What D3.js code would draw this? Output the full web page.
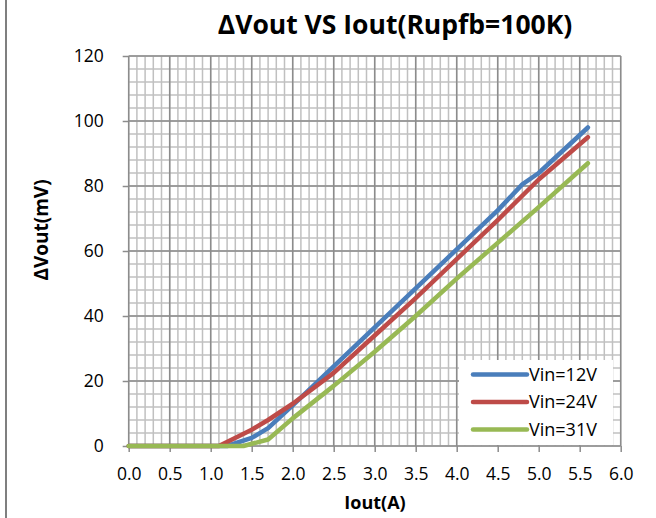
<!DOCTYPE html>
<html>
<head>
<meta charset="utf-8">
<script src="https://cdn.jsdelivr.net/npm/d3@7.9.0/dist/d3.min.js"></script>
<style>
  body { margin: 0; background: #fff; }
  svg { display: block; font-family: 'Open Sans', sans-serif; }
</style>
</head>
<body>
<svg id="chart" width="656" height="518"></svg>
<script>
// data
const seriesNames = ['Vin=12V', 'Vin=24V', 'Vin=31V'];
const seriesColors = ['#4a7ebb', '#be4b48', '#98b954'];

const iout12 = [0, 0.5, 1.0, 1.2, 1.5, 1.7, 2.0, 2.5, 3.0, 3.5, 4.0, 4.5, 4.8, 5.0, 5.6];
const dv12 = [0, 0, 0, 0, 2.5, 5.5, 12.5, 24.5, 36.5, 48.5, 60.5, 72.5, 80.5, 84, 98];

const iout24 = [0, 0.5, 1.0, 1.1, 1.5, 1.7, 2.0, 2.5, 3.0, 3.5, 4.0, 4.5, 5.0, 5.6];
const dv24 = [0, 0, 0, 0, 5, 8, 13, 22.5, 34, 45.5, 57.5, 69.5, 82, 95];

const iout31 = [0, 0.5, 1.0, 1.4, 1.7, 2.0, 2.5, 3.0, 3.5, 4.0, 4.5, 5.0, 5.6];
const dv31 = [0, 0, 0, 0, 2, 8.5, 18.5, 29, 40, 51.5, 62.5, 73.5, 87];

const xTicks = [0, 0.5, 1.0, 1.5, 2.0, 2.5, 3.0, 3.5, 4.0, 4.5, 5.0, 5.5, 6.0];
const yTicks = [0, 20, 40, 60, 80, 100, 120];

const series = [
  { name: seriesNames[0], color: seriesColors[0], pts: iout12.map((v, i) => [v, dv12[i]]) },
  { name: seriesNames[1], color: seriesColors[1], pts: iout24.map((v, i) => [v, dv24[i]]) },
  { name: seriesNames[2], color: seriesColors[2], pts: iout31.map((v, i) => [v, dv31[i]]) },
];

const svg = d3.select('#chart');
const x = d3.scaleLinear().domain([0, 6]).range([128.7, 620.7]);
const y = d3.scaleLinear().domain([0, 120]).range([446, 56]);

// outer frame edge on the left
svg.append('line')
  .attr('x1', 6).attr('x2', 6).attr('y1', 0).attr('y2', 518)
  .attr('stroke', '#7f7f7f').attr('stroke-width', 2);

// minor grid
const g = svg.append('g');
d3.range(0, 6.0001, 0.1).forEach(v => {
  g.append('line')
    .attr('x1', x(v)).attr('x2', x(v)).attr('y1', y(0)).attr('y2', y(120))
    .attr('stroke', '#c0c0c0').attr('stroke-width', 1.5);
});
d3.range(0, 120.001, 4).forEach(v => {
  g.append('line')
    .attr('x1', x(0)).attr('x2', x(6)).attr('y1', y(v)).attr('y2', y(v))
    .attr('stroke', '#c0c0c0').attr('stroke-width', 1.5);
});

// major grid
xTicks.forEach(v => {
  g.append('line')
    .attr('x1', x(v)).attr('x2', x(v)).attr('y1', y(0)).attr('y2', y(120))
    .attr('stroke', '#8c8c8c').attr('stroke-width', 1.5);
});
yTicks.forEach(v => {
  g.append('line')
    .attr('x1', x(0)).attr('x2', x(6)).attr('y1', y(v)).attr('y2', y(v))
    .attr('stroke', '#8c8c8c').attr('stroke-width', 1.5);
});

// axes
const xAxis = d3.axisBottom(x).tickValues(xTicks).tickSize(6).tickPadding(16)
  .tickFormat(d3.format('.1f'));
const yAxis = d3.axisLeft(y).tickValues(yTicks).tickSize(6).tickPadding(19);

const gx = svg.append('g').attr('transform', `translate(0,${y(0)})`).call(xAxis);
const gy = svg.append('g').attr('transform', `translate(${x(0)},0)`).call(yAxis);
[gx, gy].forEach(a => {
  a.select('.domain').remove();
  a.selectAll('.tick line').attr('stroke', '#8c8c8c').attr('stroke-width', 1.5);
  a.selectAll('.tick text').attr('fill', '#000').style('font-size', '17.5px')
    .style('font-family', "'Open Sans', sans-serif");
});

// lines
const line = d3.line().x(d => x(d[0])).y(d => y(d[1]));
series.forEach(s => {
  svg.append('path')
    .attr('d', line(s.pts))
    .attr('fill', 'none')
    .attr('stroke', s.color)
    .attr('stroke-width', 4.5)
    .attr('stroke-linejoin', 'round')
    .attr('stroke-linecap', 'round');
});

// legend
const lg = svg.append('g');
lg.append('rect')
  .attr('x', 459).attr('y', 360).attr('width', 154).attr('height', 85)
  .attr('fill', '#fff');
series.forEach((s, i) => {
  const ly = 374.5 + i * 27.5;
  lg.append('line')
    .attr('x1', 473).attr('x2', 527).attr('y1', ly).attr('y2', ly)
    .attr('stroke', s.color).attr('stroke-width', 4.5).attr('stroke-linecap', 'round');
  lg.append('text')
    .attr('x', 529).attr('y', ly).attr('dy', '0.35em')
    .style('font-size', '18px')
    .text(s.name);
});

// titles
svg.append('text')
  .attr('x', 395).attr('y', 34)
  .attr('text-anchor', 'middle')
  .style('font-size', '26.5px').style('font-weight', 'bold')
  .text('ΔVout VS Iout(Rupfb=100K)');

svg.append('text')
  .attr('x', 375).attr('y', 509)
  .attr('text-anchor', 'middle')
  .style('font-size', '18px').style('font-weight', 'bold')
  .text('Iout(A)');

svg.append('text')
  .attr('transform', 'translate(48,230) rotate(-90)')
  .attr('text-anchor', 'middle')
  .style('font-size', '19px').style('font-weight', 'bold')
  .text('ΔVout(mV)');
</script>
</body>
</html>
